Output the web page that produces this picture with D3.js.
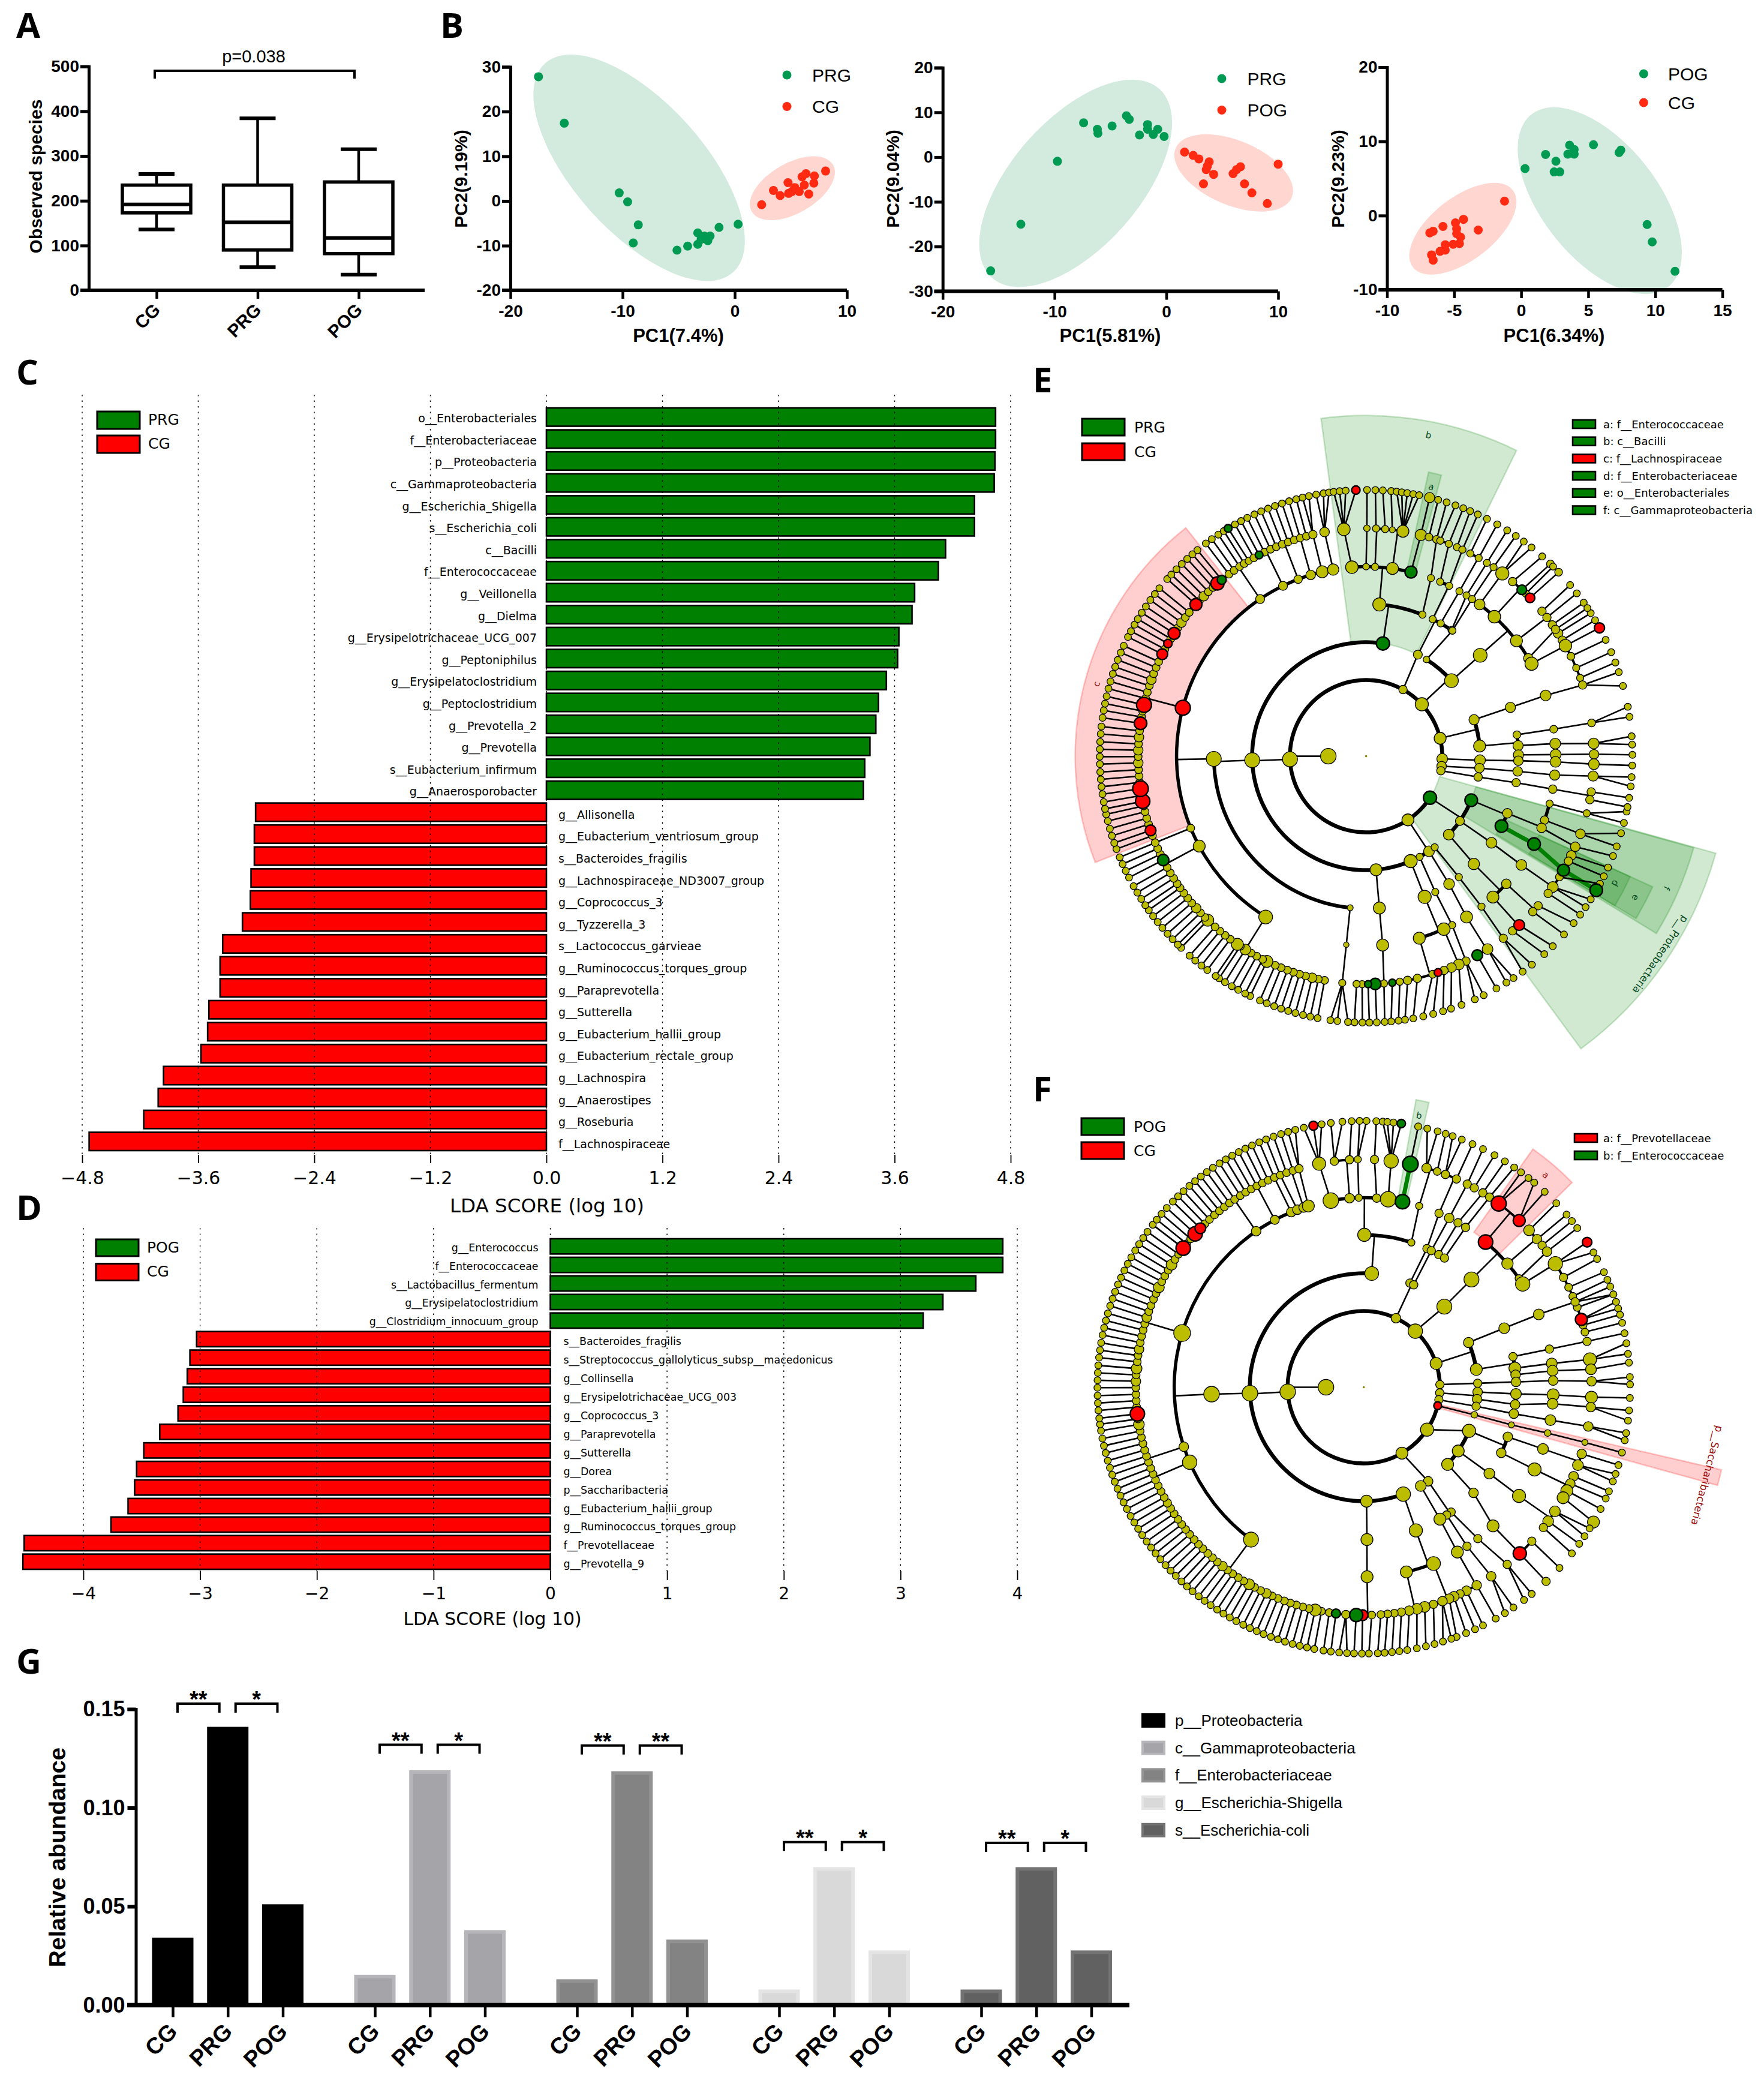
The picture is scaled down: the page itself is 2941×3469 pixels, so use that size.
<!DOCTYPE html>
<html><head><meta charset="utf-8">
<script src="https://cdn.jsdelivr.net/npm/d3@7"></script>
<style>html,body{margin:0;background:#fff}svg{display:block}</style></head><body>
<div id="c"></div>
<script>
// ---------- Panel A
const A_groups=["CG","PRG","POG"];
const A_box=[{lo:136,q1:173,med:192,q3:235,hi:260},{lo:52,q1:90,med:152,q3:235,hi:384},{lo:35,q1:82,med:117,q3:242,hi:315}];
const A_ticks=[0,100,200,300,400,500];
// ---------- Panel B
const B1_prg=[[-17.5,27.8],[-15.2,17.4],[-10.3,1.8],[-9.55,-0.2],[-8.6,-5.35],[-9.05,-9.4],[-5.15,-11],[-4.2,-10.1],[-3.3,-7.15],[-3.3,-9.7],[-3,-8.6],[-2.7,-7.85],[-2.4,-8.9],[-2.2,-7.85],[-1.4,-5.9],[0.3,-5.2]];
const B1_cg=[[2.4,-0.84],[3.45,2.35],[4.05,1.2],[4.75,4.1],[4.8,1.7],[5.1,2.1],[5.75,2.1],[6,5.4],[6.2,3.55],[6.35,6.1],[6.6,1.55],[7.05,4],[7.1,5.6],[8.1,6.7],[5.35,3]];
const B1_ell=[[-17.95,0.9,-17.9,32.76,-14.6],[1.35,8.93,-4.3,9.99,7.04]];
const B2_prg=[[-15.71,-25.44],[-13.01,-15],[-9.74,-0.94],[-7.4,7.65],[-6.17,6.21],[-6.12,5.31],[-4.85,6.96],[-3.57,9.24],[-3.32,8.44],[-2.4,4.94],[-1.68,7.27],[-1.68,6.21],[-1.17,5.05],[-0.77,6.21],[-0.2,4.62]];
const B2_pog=[[1.63,1.12],[2.4,0.38],[2.91,-0.41],[3.83,-1.05],[3.57,-2.8],[4.23,-3.86],[3.32,-5.98],[5.97,-3.7],[6.63,-2.16],[6.28,-2.8],[6.99,-5.98],[7.65,-8],[9.03,-10.38],[10,-1.58],[3.67,-2]];
const B2_ell=[[-16.73,0.51,-29.05,17.3,-3.06],[0.71,11.33,-12.18,5.1,3.57]];
const B3_pog=[[0.29,6.33],[1.82,8.24],[2.46,5.88],[2.88,5.88],[2.59,7.32],[3.48,8.27],[3.61,9.49],[3.95,8.91],[3.95,8.27],[5.39,9.55],[7.3,8.5],[7.43,8.82],[9.39,-1.21],[9.77,-3.55],[11.47,-7.51]];
const B3_cg=[[-1.24,1.95],[-4.3,-0.51],[-4.9,-0.99],[-3.2,-1.95],[-4.81,-1.79],[-4.81,-2.43],[-5.83,-1.47],[-6.56,-2.11],[-6.81,-2.33],[-4.52,-2.91],[-4.6,-3.77],[-5.07,-3.87],[-5.66,-3.93],[-5.66,-4.66],[-6.05,-4.82],[-6.68,-5.3],[-6.56,-6.01]];
const B3_ell=[[-0.26,11.98,-10.58,14.6,2.46],[-8.34,-0.35,-7.96,4.41,-2]];
// ---------- Panel C
const C_names=["o__Enterobacteriales","f__Enterobacteriaceae","p__Proteobacteria","c__Gammaproteobacteria","g__Escherichia_Shigella","s__Escherichia_coli","c__Bacilli","f__Enterococcaceae","g__Veillonella","g__Dielma","g__Erysipelotrichaceae_UCG_007","g__Peptoniphilus","g__Erysipelatoclostridium","g__Peptoclostridium","g__Prevotella_2","g__Prevotella","s__Eubacterium_infirmum","g__Anaerosporobacter","g__Allisonella","g__Eubacterium_ventriosum_group","s__Bacteroides_fragilis","g__Lachnospiraceae_ND3007_group","g__Coprococcus_3","g__Tyzzerella_3","s__Lactococcus_garvieae","g__Ruminococcus_torques_group","g__Paraprevotella","g__Sutterella","g__Eubacterium_hallii_group","g__Eubacterium_rectale_group","g__Lachnospira","g__Anaerostipes","g__Roseburia","f__Lachnospiraceae"];
const C_vals=[4.644,4.644,4.637,4.63,4.426,4.426,4.127,4.052,3.807,3.78,3.644,3.631,3.515,3.433,3.406,3.345,3.291,3.277,-3.007,-3.02,-3.02,-3.054,-3.061,-3.143,-3.347,-3.374,-3.374,-3.49,-3.503,-3.571,-3.959,-4.014,-4.163,-4.728];
const C_ticks=[-4.8,-3.6,-2.4,-1.2,0,1.2,2.4,3.6,4.8];
// ---------- Panel D
const D_names=["g__Enterococcus","f__Enterococcaceae","s__Lactobacillus_fermentum","g__Erysipelatoclostridium","g__Clostridium_innocuum_group","s__Bacteroides_fragilis","s__Streptococcus_gallolyticus_subsp__macedonicus","g__Collinsella","g__Erysipelotrichaceae_UCG_003","g__Coprococcus_3","g__Paraprevotella","g__Sutterella","g__Dorea","p__Saccharibacteria","g__Eubacterium_hallii_group","g__Ruminococcus_torques_group","f__Prevotellaceae","g__Prevotella_9"];
const D_vals=[3.876,3.876,3.645,3.363,3.194,-3.03,-3.087,-3.11,-3.144,-3.189,-3.346,-3.482,-3.544,-3.561,-3.617,-3.763,-4.507,-4.518];
const D_ticks=[-4,-3,-2,-1,0,1,2,3,4];
// ---------- Panel G
const G_taxa=["p__Proteobacteria","c__Gammaproteobacteria","f__Enterobacteriaceae","g__Escherichia-Shigella","s__Escherichia-coli"];
const G_vals=[[.0342,.141,.0511],[.0154,.119,.038],[.0131,.1185,.0332],[.0079,.0699,.0277],[.0079,.0699,.0277]];
const G_fill=["#000","#a5a4a9","#838383","#d9d9d9","#616161"];
const G_edge=["#000","#b6b5ba","#929292","#e4e4e4","#737373"];
const G_stars=[["**","*"],["**","*"],["**","**"],["**","*"],["**","*"]];
const G_level=[.1527,.1319,.1315,.0826,.0822];
const G_ticks=[0,.05,.1,.15];
// ---------- Cladogram nodes: [clockwise angle from top, radius, children, colour]; a bare number is a spoke out to the rim
const E_fam212=[190.5,192.1,[193.7,8],195.4,197,198.6,200.2,201.9,203.5,[205.8,10],207,208.7,210.3,[212,9],213.5,[214.4,10],216.6,218.2,219.9,221.5,[224,10],225,226.6,[228.2,8],229.9,231.5,233.1,234.7,236];
const E_lachno=[249.6,[251,9,null,'r'],252.6,254.2,255.9,257.4,[258.6,12,null,'r'],260.1,[261.8,13,null,'r'],263.4,265,266.6,[268.3,8],269.9,[271.5,8],273.1,[274.8,8],276.4,[278.3,10.5,null,'r'],279.9,281.4,[283,12.5,null,'r'],284.7,286.3,288,[289.6,8],291.2,292.9,294.5,[296.6,9,null,'r'],298,[299.6,7,null,'r'],301,[302.6,10,null,'r'],304.2,[305.9,8],307.5,309.1,[311.7,10,null,'r'],313,[314.6,8],316.2,317.8,[319.3,11,null,'r']];
const E_clostridiales=[
 [212,11.5,E_fam212],[241.7,10,[237.6,239.2,240.8,[242.9,9.5,null,'g'],244.5]],[247.7,6.5,[246.1,247.7]],
 [284.8,12.5,E_lachno,'r'],
 [326,7.5,[[320.7,7.5,null,'g'],323,324.6,326.3,327.7,[329,6,[[328.8,6.5,null,'g']]]]],
 [334,7.5,[[332,6.5,null,'g'],330.5,333.5,335.2,336.8]],[339,7,[338.4,340,341.6]],[343,8,[343.2,344.8]],[346.6,10,[[346.5,7,[346.2,347.6]]]],[350,9.5,[[349.5,8,[349.2,350.8,352]]]]];
const E_bacilli=[
 [365,11,[[355.7,10.5,[[354.4,10.5,[353,354.3,355.6,[357.8,7,null,'r']]]]],[360,5.5,[[360.2,5.5,[360.2]]]],[362.7,6,[[362.5,6,[362]],[364.8,6,[363.6]]]],
   [368,10,[[366.6,5,[365.4]],[369.3,10,[366.6,367.7,368.9,370.2,371.5]]]],[373.7,10,[[373.9,9.5,[[373.8,8.5]]]],'g']]],
 [381.7,6,[[380,6,[[376,6.5,[375.7]],[378,6.5,[377.6]]]]]]];
const E_firmicutes=[
 [157,11,[[157.4,11,[[155.8,10.5,[[156,9,[159]],[158,8,[161.4]],[160,7,[163.2]],[161.6,6.5,[165.4],'r']]],
   [163.7,10,[[163,6.5,[167.6]],[167,7,[169.8]],[169.5,7,[171.6]],[171.5,6,[173]],[173.4,6,[174.6],'g']]]]]]],
 [175,10,[[175,10,[[175,10,[[175.5,6,[176]],[177.7,9.5,[177.7],'g'],[179.5,6,[179.3],'g'],[181,6,[180.8]],[182.4,6,[182.5]]]]]]]],
 [268,12.5,[[269,12.5,E_clostridiales],[186,5,[[186,4.5,[[186,6,[183.9,186.2,187.7]]]]]]]],
 [368.5,11,E_bacilli,'g']];
const E_top=[
 [387,7.5,[[385.9,6,[[383,6,[[379,6,[379.6]],[381.3,6,[381.4]]]],[386,6,[[383.5,6,[383]],[385,6,[384.8]]]]]],[389.3,6,[[389.5,6,[[387.2,6,[387]],[389.6,6,[389.5]]]]]],[394.1,6,[[392,6,[[392,6,[392]]]]]]]]];
const E_top2=[
 [392,5.5,[[394.5,6,[[394,6,[[394,6,[394.2]]]]]]]],
 [408.5,11.5,[[408.5,11.5,[[396.8,9,[[396.7,11,[396.3,398.4]]]],[402.6,10.5,[[400,7,[401.4]],[403.1,8,[[403.8,6.5]],'g'],[404.5,6,[404.6]],[406,8,[[406.3,6.5]],'r']]],
   [412.5,10,[[410.5,7,[410]],[412.5,7,[412.3]],[414.8,7,[414.8]],[417.4,8,[417.5]],[419.4,7,[419.3]]]],[418.9,8,[[416.2,7]]],[420.8,11,[[421,10.5,[[421.2,8.5,null,'r']]],[424,6.5,[424.1]],[427.2,6,[427]],[429.9,6,[429.4]]]]]]]]];
const E_right=[
 [431.3,8.5,[[431.3,8.5,[[431.3,9,[[431.8,7,[431.6,434.7]]]]]]]],
 [444.9,10,[[441.9,6.5,[[441.8,6.5,[[441.6,6.5,[439.3,441.5]]]]]],[446,8.5,[[446.2,9,[[446.8,9,[445.7,447.5]]]]]]]]];
const E_proteo=[
 [112.7,10.5,[
   [117.3,10.5,[[117.6,10.5,[[120,10,[[120.2,10.5,null,'g']],'g']],'g']],'g'],
   [112,8,[[104.5,6,[[104.5,6,[102,104.5]]]],[109.7,7,[[109.9,8,[106.8,109.8]]]],[112.2,8,[[113.4,8,[112]],[115.8,8,[114.7]],[117.4,7,[116.8]]]]]]],'g'],
 [124.6,7.5,[[124.6,9,[[125,9,[[122,6.5,[118.6]],[125,9,[122.5,124.5]],[127,7,[126.5]]]]]]]],
 [133.5,9,[[135,9.5,[[138,10,[[137.8,9,[135.5],'r'],[140,7,[138]]]],[132.3,8,[[131,7,[128.8]],[133,7,[132]]]]]]]]];
const E_other=[
 [146.5,9,[[147,9,[[148,10,[[147.8,9,[146.4,148.2]],[150.8,9,[150.7],'g']]]]]]],
 [143,6,[[142.5,6,[[142.5,6,[[143,7,[141.5,144]]]]]]]],
 [152,6,[[153,6,[[153,6,[[154,7,[153.8,155.9]]]]]]]]];
const E_tree=[270,13,[
 [123,11,E_proteo,'g'],[146.7,10,E_other],[267.7,12.5,E_firmicutes],[389,7,E_top],[407,11,E_top2],[436.4,10,E_right],
 [452,9,[[452,9,[[449.5,8.5,[[449.5,9,[[449.5,8,[449.7]]]]]],[451.7,8,[[451.7,9,[[452,9,[452]]]]]]]]]],
 [457.5,8,[[456,8,[[455.7,8,[[455.7,8.5,[[455,8.5,[454.5,456.5]]]]]]]]]],
 [461,7,[[460.5,7,[[460,7,[[460,7,[[459,7,[459]],[461,7,[461]]]]]]]]]]]];
// ---------- F
const F_fam216=[[184.5,7,[183.6,185.3]],[187,7.5,[187.1],'g'],188.7,190.7,[192.3,10],193.9,195.5,197.2,198.8,200.4,202.1,203.7,[205.3,8],206.9,208.6,[210.2,9],211.8,213.4,215.1,216.7,[218.3,8],220,221.6,223.2,224.9,226.5,228.1,229.8,231.4,233,234.6,236.3,237.9];
const F_fam286=[255.7,257.3,258.9,[260.6,9],262,[263.3,12,null,'r'],265,266.6,268.2,269.9,[271.5,8],273.1,[274.7,9],276.4,278,[279.6,8],281.3,282.9,284.5,286.1,[287.8,8],289.4,291,292.7,294.3,[296,9],297.6,299.2,300.9,[302.5,9],304.1,305.7,[307.6,12,null,'r'],309,310.6,[312.3,12,null,'r'],[314.2,9,null,'r'],315.8,317.4,319.1,320.7];
const F_clostridiales=[[216.5,12.5,F_fam216],[246.7,12,[[239.5,7],241.1,242.8,244.4,246,247.6,249.2]],[251.7,8,[250.8,252.4,254]],[286.6,14,F_fam286],
 [325.4,8,[322.3,323.9,325.5,327.2,328.8]],[332,7.5,[330.4,332,333.6]],[337.5,8,[335.2,336.9]],[339.5,8,[338.5]],[341.5,8,[340.2,341.9]],[343,10,[[343.5,7,[343.5,345.1]]]]];
const F_bacilli=[
 [360.2,11,[[350,13,[[348.7,11,[347,[349.1,7.5,null,'r'],350.9]]]],[355.7,8,[[352.6,7,[352.9,355.4]],[356.4,7,[357.4]]]],[358.5,6,[[358.5,6,[359.1,360.6]]]],[363.9,7,[[362.7,7,[362.7]]]],
   [367.4,13,[[366.9,12,[364.1,365.1,366.4,[368.1,7,null,'g']]]]],[371.8,12,[[371.8,13,[[371.8,6]],'g']],'g']]],
 [378.2,6,[[377,6,[[376,8,[373.8,376.1]],[378.8,6.5,[377.9]]]]]]];
const F_firmicutes=[
 [159.7,12,[[160,11,[[158.4,11.5,[[156.7,8.5,[157.4]],[158,8,[159.6]],[159.8,8,[160.8,162.7]],[162.2,7,[164.6]]]],
   [167,10,[[164.5,9,[166.5]],[166.5,9,[168.5]],[168.5,8,[170.6]],[170.5,7,[172.3]],[172.3,6.5,[173.9]],[174,6.5,[175.5]],[175.7,6.5,[177]]]]]]]],
 [178.6,10,[[178.8,10,[[179,10,[[178,6.5,[178.9]],[180.3,9,[180.4],'r'],[181.9,11,[182.1],'g']]]]]]],
 [267,13,[[267.4,13,F_clostridiales]]],
 [364,11.5,F_bacilli]];
const F_top=[
 [383.9,7,[[384.5,7,[[383.4,7,[[381,7,[379.5,381.6]],[384,7,[384.1]]]]]]]],
 [386,7,[[386.3,7,[[386.8,8,[[387,7,[386.6]],[389,7,[389.4]]]]]],[389.5,7,[[389.8,7,[[391.5,7,[392]]]]]],[392,7,[[392.5,7,[[393.5,7,[394.4]]]]]]]]];
const F_prevo=[
 [405,12.5,[[405,12.5,[
   [400,12,[[396.3,12.5,[396.2,398.2],'r'],[403,10,[399.8,402.8],'r']],'r'],
   [409.3,9.5,[[406.5,9,[406.3]],[409.5,8,[409.6]],[411.5,7,[411.4]]]],
   [415,6.5,[[413.5,8,[413.3]]]],
   [417,12,[[417.2,12,[[417,8,null,'r'],419.6]],[421.2,7,[421.2]],[424,6.5,[424.4]],[426.5,6.5,[426.2]],[429.5,6.5,[429.6]],[432.7,10,[431.3,432.8],'r'],[434.2,6.5,[434.2]],[436,6.5,[436]]]]]]]]];
const F_right=[
 [426.9,8.5,[[427.2,9,[[427.4,9,[[428,7,[427.8,429.6]]]]]]]],
 [441,10,[[438.4,7,[[438.4,7,[[438.4,7,[438.3]]]]]],[442.8,10,[[442.8,9,[[443,11,[440.5,442.8]]]]]],[445.3,8,[[445,9,[[445.5,9,[444.7]]]]]]]]];
const F_mid=[
 [472.5,11,[[469,8,[[469,9,[[467,8,[467]],[470,9,[469,470.7]]]]]],[475.5,8,[[475.7,11,[[473,8,[473]],[475,8,[474.7]],[477,10,[477.2]],[479,10,[[480.4,10]]]]]]]]],
 [484,10,[[484.5,9,[[485,11,[[483,9,[482,484]],[486,9,[486]],[488,7,[488.6]]]]]]]],
 [492.6,10,[[493.9,8,[[497,10,[[492.5,7,[492.7]],[496.8,11,[[496.8,7]],'r']]]]]]],[483.8,0]];
const F_low=[
 [505.6,8,[[505,7,[[503,7,[[501,7,[500.9,503]]]]]],[507,7,[[507,7,[[506,8,[505.8,508]]]]]]]],
 [510,9,[[510,10,[[510.4,10,[[510.3,8,[510.3]],[513.2,8,[513.4]],[515,7,[515.3]]]]]]]]];
const F_tree=[270,13,[
 [123.8,11,F_mid],[149.9,10,F_low],[266.6,13,F_firmicutes],[385,8,F_top],[402.6,12,F_prevo],[431.8,10,F_right],
 [448,7,[[448,7,[[448,8,[[448,8,[[448.5,8,[447.8,449.4]]]]]]]]]],
 [454.3,7,[[452.4,8,[[452.5,9,[[452.3,10,[[452.5,10,[452.3]]]]]]]],[456,8,[[456.5,8,[[455,9,[[455,8,[455,457.2]]]]]]]]]],
 [459.5,7,[[459.6,7,[[460,8,[[460,9,[[459.9,8,[459.9,461.5]]]]]]]]]],
 [464,6.5,[[464,5.5,[[464.3,5,[[464,5.5,[[464,5,[464.2]]]]]]]]],'r'],[483.8,0]]];
const E_wedges=[
 {t:"p__Proteobacteria",a0:105.5,a1:143.7,r0:127,r1:605,c:'g',lr:592,la:124,fs:17},
 {t:"f",a0:105.6,a1:121.4,r0:190,r1:567,c:'g',lr:547,la:113.7,fs:15},
 {t:"e",a0:114.5,a1:121,r0:253,r1:525,c:'g',lr:507,la:117.7,fs:15},
 {t:"d",a0:114.5,a1:121,r0:317,r1:484,c:'g',lr:466,la:117,fs:15},
 {t:"b",a0:352.4,a1:386.2,r0:190,r1:568,c:'g',lr:545,la:371,fs:15},
 {t:"a",a0:372.4,a1:375,r0:316,r1:485,c:'g',lr:462,la:373.6,fs:15},
 {t:"c",a0:248.6,a1:321.7,r0:316,r1:485,c:'r',lr:465,la:285,fs:15}];
const F_wedges=[
 {t:"p__Saccharibacteria",a0:103,a1:105.5,r0:127,r1:612,c:'r',lr:591,la:104.4,fs:17},
 {t:"a",a0:35.4,a1:45.5,r0:317,r1:487,c:'r',lr:466,la:40.6,fs:15},
 {t:"b",a0:10.3,a1:12.9,r0:317,r1:487,c:'g',lr:462,la:11.5,fs:15}];
const E_key=[["a: f__Enterococcaceae",'g'],["b: c__Bacilli",'g'],["c: f__Lachnospiraceae",'r'],["d: f__Enterobacteriaceae",'g'],["e: o__Enterobacteriales",'g'],["f: c__Gammaproteobacteria",'g']];
const F_key=[["a: f__Prevotellaceae",'r'],["b: f__Enterococcaceae",'g']];

const ARIAL="'Liberation Sans',Arial,sans-serif", DJV="'DejaVu Sans',sans-serif";
const svg=d3.select("#c").append("svg").attr("width",2941).attr("height",3469).attr("viewBox","0 0 2941 3469");
svg.append("rect").attr("width",2941).attr("height",3469).attr("fill","#fff");
const letter=(t,x,y)=>svg.append("text").text(t).attr("x",x).attr("y",y).attr("font-family","'Open Sans',sans-serif").attr("font-weight",700).attr("font-size",58);
[["A",27,63],["B",734,63],["C",27,641],["D",27,2034],["E",1722,654],["F",1722,1836],["G",27,2790]].forEach(d=>letter(...d));
function txt(g,t,x,y,o={}){const e=g.append("text").text(t).attr("x",x).attr("y",y).attr("font-family",o.font||ARIAL).attr("font-size",o.fs||28).attr("font-weight",o.w||400).attr("text-anchor",o.a||"start").attr("dominant-baseline",o.base||"central").attr("fill",o.fill||"#000");if(o.rot!=null)e.attr("transform",`rotate(${o.rot} ${x} ${y})`);return e;}

function prismY(g,y,x0,ticks,fmt,o={}){
  const a=d3.axisLeft(y).tickValues(ticks).tickSize(o.ts||14).tickPadding(o.pad||2).tickFormat(fmt||(d=>String(d)));
  const s=g.append("g").attr("transform",`translate(${x0},0)`).call(a);
  s.select(".domain").attr("stroke-width",o.dw||5).attr("stroke","#000");
  s.selectAll(".tick line").attr("stroke-width",o.tw||5).attr("stroke","#000");
  s.selectAll("text").attr("font-family",ARIAL).attr("font-weight",700).attr("font-size",o.fs||28).attr("fill","#000");
}
function prismX(g,x,y0,ticks,xEnd,o={}){
  const a=d3.axisBottom(x).tickValues(ticks).tickSize(o.ts||14).tickPadding(o.pad||10).tickFormat(d=>String(d));
  const s=g.append("g").attr("transform",`translate(0,${y0})`).call(a);
  s.select(".domain").attr("d",`M${o.x0},0H${xEnd}`).attr("stroke-width",o.dw==null?6:o.dw).attr("stroke","#000");
  s.selectAll(".tick line").attr("stroke-width",o.tw||4.5).attr("stroke","#000");
  s.selectAll("text").attr("font-family",ARIAL).attr("font-weight",700).attr("font-size",o.fs||28).attr("fill","#000");
  if(o.rot){s.selectAll("text").attr("text-anchor","end").attr("dy","0.35em").attr("y",o.ly).attr("x",o.lx).attr("transform",function(){return `rotate(${o.rot} ${o.lx} ${o.ly})`;});}
}
// Panel A
(function(){
 const g=svg.append("g");
 const y=d3.scaleLinear([0,500],[484,110.7]);
 const x=d3.scalePoint(A_groups,[261,598]);
 prismY(g,y,148,A_ticks);
 prismX(g,x,484,A_groups,708,{x0:134,rot:-45,lx:0,ly:27,fs:30});
 const w=114, cap=60;
 A_box.forEach((b,i)=>{const cx=x(A_groups[i]);
  g.append("line").attr("x1",cx).attr("x2",cx).attr("y1",y(b.lo)).attr("y2",y(b.hi)).attr("stroke","#000").attr("stroke-width",4.5);
  [b.lo,b.hi].forEach(v=>g.append("line").attr("x1",cx-cap/2).attr("x2",cx+cap/2).attr("y1",y(v)).attr("y2",y(v)).attr("stroke","#000").attr("stroke-width",6));
  g.append("rect").attr("x",cx-w/2).attr("width",w).attr("y",y(b.q3)).attr("height",y(b.q1)-y(b.q3)).attr("fill","#fff").attr("stroke","#000").attr("stroke-width",5.5);
  g.append("line").attr("x1",cx-w/2).attr("x2",cx+w/2).attr("y1",y(b.med)).attr("y2",y(b.med)).attr("stroke","#000").attr("stroke-width",6);
 });
 g.append("path").attr("d",`M${x("CG")-3},131V118H${x("POG")-7}V131`).attr("fill","none").attr("stroke","#000").attr("stroke-width",4);
 txt(g,"p=0.038",423,94,{fs:29,a:"middle"});
 txt(g,"Observed species",59,294,{fs:30,w:700,a:"middle",rot:-90});
})();
// Panel B
function ellipseFrom(g,x,y,e,fill){
 const x0=x(e[0]),x1=x(e[1]),y0=y(e[3]),y1=y(e[2]),xt=x(e[4]);
 const cx=(x0+x1)/2,cy=(y0+y1)/2,hx=(x1-x0)/2,hy=(y1-y0)/2;
 const S=(cx-xt)*hy,D=hx*hx-hy*hy,sum=hx*hx+hy*hy,diff=Math.hypot(2*S,D);
 const a=Math.sqrt((sum+diff)/2),b=Math.sqrt(Math.max(1,(sum-diff)/2)),th=Math.atan2(2*S,D)/2*180/Math.PI;
 g.append("ellipse").attr("cx",cx).attr("cy",cy).attr("rx",a).attr("ry",b).attr("transform",`rotate(${th} ${cx} ${cy})`).attr("fill",fill);
}
function pca(o){
 const g=svg.append("g");
 const x=d3.scaleLinear(o.xd,o.xr), y=d3.scaleLinear(o.yd,o.yr);
 const GR="#009a52",RD="#ff2a12";
 ellipseFrom(g,x,y,o.ell[0],"#d3eadf");
 ellipseFrom(g,x,y,o.ell[1],"#ffd6d0");
 g.selectAll(null).data(o.a).join("circle").attr("cx",d=>x(d[0])).attr("cy",d=>y(d[1])).attr("r",7.5).attr("fill",GR);
 g.selectAll(null).data(o.b).join("circle").attr("cx",d=>x(d[0])).attr("cy",d=>y(d[1])).attr("r",7.5).attr("fill",RD);
 prismY(g,y,o.xr[0],o.yt);
 prismX(g,x,o.yr[0],o.xt,o.xr[1],{x0:o.xr[0]-14});
 o.leg.forEach((l,i)=>{g.append("circle").attr("cx",l[1]).attr("cy",l[2]).attr("r",7.5).attr("fill",i?RD:GR);txt(g,l[0],l[3],l[2],{fs:30});});
 txt(g,o.xl,o.xlx,559,{fs:31,w:700,a:"middle"});
 txt(g,o.yl,o.ylx,298,{fs:30,w:700,a:"middle",rot:-90});
}
pca({xd:[-20,10],xr:[851,1412],yd:[-20,30],yr:[484,111.5],ell:B1_ell,a:B1_prg,b:B1_cg,yt:[-20,-10,0,10,20,30],xt:[-20,-10,0,10],leg:[["PRG",1312,125,1354],["CG",1312,177.5,1354]],xl:"PC1(7.4%)",xlx:1131,yl:"PC2(9.19%)",ylx:768});
pca({xd:[-20,10],xr:[1571.7,2131],yd:[-30,20],yr:[485.6,112.7],ell:B2_ell,a:B2_prg,b:B2_pog,yt:[-30,-20,-10,0,10,20],xt:[-20,-10,0,10],leg:[["PRG",2037,131,2079.5],["POG",2037,183.5,2079.5]],xl:"PC1(5.81%)",xlx:1851,yl:"PC2(9.04%)",ylx:1488});
pca({xd:[-10,15],xr:[2312.5,2871.6],yd:[-10,20],yr:[483,112],ell:B3_ell,a:B3_pog,b:B3_cg,yt:[-10,0,10,20],xt:[-10,-5,0,5,10,15],leg:[["POG",2740.4,123,2781],["CG",2740.4,171,2781]],xl:"PC1(6.34%)",xlx:2591,yl:"PC2(9.23%)",ylx:2230});
// LDA bars
function lda(o){
 const g=svg.append("g");
 const x=d3.scaleLinear(o.xd,o.xr);
 const y=d3.scaleBand(o.names,o.yr).paddingInner(o.pad).paddingOuter(0);
 o.names.forEach((n,i)=>{const v=o.vals[i];
  g.append("rect").attr("x",x(Math.min(v,0))).attr("width",Math.abs(x(v)-x(0))).attr("y",y(n)).attr("height",y.bandwidth()).attr("fill",v>0?"#008000":"#ff0000").attr("stroke","#000").attr("stroke-width",2.6);
  if(v>0)txt(g,n,x(0)-o.lo,y(n)+y.bandwidth()/2+2,{font:DJV,fs:o.fs,a:"end"});
  else txt(g,n,x(0)+o.ro,y(n)+y.bandwidth()/2+4,{font:DJV,fs:o.fs});
 });
 o.ticks.forEach(t=>g.append("line").attr("x1",x(t)).attr("x2",x(t)).attr("y1",o.gt).attr("y2",o.gb).attr("stroke","#000").attr("stroke-width",1.4).attr("stroke-dasharray","2.5,7"));
 const ax=d3.axisBottom(x).tickValues(o.ticks).tickSize(o.ts).tickPadding(o.tp).tickFormat(o.fmt);
 const s=g.append("g").attr("transform",`translate(0,${o.gb})`).call(ax);
 s.select(".domain").remove();
 s.selectAll(".tick line").attr("stroke","#000").attr("stroke-width",1.8);
 s.selectAll("text").attr("font-family",DJV).attr("font-size",o.tfs).attr("fill","#000");
 txt(g,"LDA SCORE (log 10)",o.lx,o.ly,{font:DJV,fs:o.lfs,a:"middle"});
 o.leg.forEach((l,i)=>{g.append("rect").attr("x",o.lgx).attr("y",o.lgy[i]).attr("width",o.lgw).attr("height",o.lgh).attr("fill",i?"#ff0000":"#008000").attr("stroke","#000").attr("stroke-width",3);
   txt(g,l,o.lgx+o.lgw+14,o.lgy[i]+o.lgh/2-1,{font:DJV,fs:25});});
}
lda({names:C_names,vals:C_vals,xd:[-4.8,4.8],xr:[137,1685],yr:[680,1918],pad:.166,ticks:C_ticks,gt:658,gb:1925,ts:14,tp:14,tfs:30,fmt:d3.format(".1f"),fs:19,lo:16,ro:20,lx:912,ly:2010,lfs:32.5,leg:["PRG","CG"],lgx:162,lgy:[686,726],lgw:71,lgh:29});
lda({names:D_names,vals:D_vals,xd:[-4,4],xr:[139,1696],yr:[2065,2616],pad:.18,ticks:D_ticks,gt:2047,gb:2619,ts:15,tp:12,tfs:28,fmt:d3.format("d"),fs:17.4,lo:20,ro:22,lx:821,ly:2698,lfs:29.8,leg:["POG","CG"],lgx:160,lgy:[2066,2106.5],lgw:71,lgh:28});
// Panel G
(function(){
 const g=svg.append("g");
 const y=d3.scaleLinear([0,.15],[3342.5,2849]);
 const xG=d3.scalePoint(G_taxa,[288,1636]);
 const cats=["CG","PRG","POG"];
 const bw=69;
 G_taxa.forEach((t,i)=>{
  const x=d3.scalePoint(cats,[xG(t),xG(t)+183.5]);
  cats.forEach((c,j)=>{const v=G_vals[i][j];
    g.append("rect").attr("x",x(c)-bw/2+3).attr("width",bw-6).attr("y",y(v)+3).attr("height",y(0)-y(v)-3).attr("fill",G_fill[i]).attr("stroke",G_edge[i]).attr("stroke-width",6);});
  prismX(g,x,3342.5,cats,x("POG"),{x0:x("CG"),rot:-45,lx:0,ly:37,ts:20,fs:38,tw:4.5,dw:0});
  [[x("CG")+8,x("PRG")-14],[x("PRG")+13,x("POG")-9]].forEach((b,k)=>{const ly=y(G_level[i]);
    g.append("path").attr("d",`M${b[0]},${ly+15}V${ly}H${b[1]}V${ly+15}`).attr("fill","none").attr("stroke","#000").attr("stroke-width",4);
    txt(g,G_stars[i][k],(b[0]+b[1])/2,ly+6,{fs:38,w:700,a:"middle",base:"auto"});});
 });
 prismY(g,y,226.5,G_ticks,d3.format(".2f"),{fs:36,ts:14,tw:6,pad:4});
 g.append("line").attr("x1",212).attr("x2",1883).attr("y1",3342.5).attr("y2",3342.5).attr("stroke","#000").attr("stroke-width",7.5);
 txt(g,"Relative abundance",95,3096,{fs:39,w:700,a:"middle",rot:-90});
 G_taxa.forEach((t,i)=>{const yy=2856+i*45.7;
   g.append("rect").attr("x",1903+2).attr("y",yy+2).attr("width",36).attr("height",20).attr("fill",G_fill[i]).attr("stroke",G_edge[i]).attr("stroke-width",4);
   txt(g,t,1959,yy+12,{fs:26});});
})();
// Cladograms
const LEVEL_R=[0,63,127,190,254,316,380,444];
const ARC_W=[0,0,6.5,6.5,6,5.5,4,0];
const DEF_R=[0,13,10,6,6.5,6,6.5,5.8];
const COL={g:"#008000",r:"#ff0000"};
function expand(sp,level){
 if(typeof sp==="number")sp=[sp,DEF_R[level],null,null];
 const a=sp[0],r=sp[1]==null?DEF_R[level]:sp[1];
 let kids=sp[2];
 if((kids==null)&&level<7&&r>0)kids=[a];
 return {a,r,c:sp[3]||null,level,kids:(kids||[]).map(k=>expand(k,level+1))};
}
function polar(r,a){const t=a*Math.PI/180;return [r*Math.sin(t),-r*Math.cos(t)];}
function clado(o){
 const g=svg.append("g").attr("transform",`translate(${o.cx},${o.cy})`);
 const root=expand(o.tree,1);
 const arc=d3.arc();
 const RAD=Math.PI/180;
 o.wedges.forEach(w=>{
   g.append("path").attr("d",arc({innerRadius:w.r0,outerRadius:w.r1,startAngle:w.a0*RAD,endAngle:w.a1*RAD}))
    .attr("fill",w.c==='g'?"rgba(0,128,0,.18)":"rgba(255,0,0,.19)").attr("stroke",w.c==='g'?"rgba(0,128,0,.2)":"rgba(255,0,0,.22)").attr("stroke-width",2.5);
 });
 const links=g.append("g"),nodes=[];
 (function walk(n){
   nodes.push(n);
   const real=n.kids.filter(k=>k.r>0);
   const rc=LEVEL_R[n.level+1];
   if(n.kids.length>1&&n.level+1<=6){
     const as=n.kids.map(k=>k.a);
     const a0=d3.min(as),a1=d3.max(as);
     links.append("path").attr("d",arc({innerRadius:rc-ARC_W[n.level+1]/2,outerRadius:rc+ARC_W[n.level+1]/2,startAngle:a0*RAD,endAngle:a1*RAD})).attr("fill","#000");
     const p=polar(LEVEL_R[n.level],n.a),q=polar(rc,Math.min(a1,Math.max(a0,n.a)));
     links.append("line").attr("x1",p[0]).attr("y1",p[1]).attr("x2",q[0]).attr("y2",q[1]).attr("stroke","#000").attr("stroke-width",2.6);
   } else real.forEach(k=>{
     const p=polar(LEVEL_R[n.level],n.a),q=polar(rc,k.a),hot=k.c&&k.c===n.c;
     links.append("line").attr("x1",p[0]).attr("y1",p[1]).attr("x2",q[0]).attr("y2",q[1]).attr("stroke",hot?COL[k.c]:"#000").attr("stroke-width",hot?7:2.6);
   });
   real.forEach(walk);
 })(root);
 nodes.sort((a,b)=>(a.c?1:0)-(b.c?1:0));
 g.append("g").selectAll("circle").data(nodes).join("circle")
  .attr("cx",d=>polar(LEVEL_R[d.level],d.a)[0]).attr("cy",d=>polar(LEVEL_R[d.level],d.a)[1]).attr("r",d=>d.r)
  .attr("fill",d=>d.c?COL[d.c]:"#bdbd00").attr("stroke","#000").attr("stroke-width",d=>d.c?2.4:1.3);
 g.append("circle").attr("r",1.8).attr("fill","#8a8a00");
 o.wedges.forEach(w=>{const [x,y]=polar(w.lr,w.la);
   txt(g,w.t,x,y,{font:DJV,fs:w.fs,a:"middle",fill:w.c==='g'?"#064a1e":"#9b1010",rot:w.la});});
 o.leg.forEach((l,i)=>{svg.append("rect").attr("x",o.lgx).attr("y",o.lgy[i]).attr("width",71).attr("height",o.lgh).attr("fill",i?"#ff0000":"#008000").attr("stroke","#000").attr("stroke-width",3);
   txt(svg,l,o.lgx+87,o.lgy[i]+o.lgh/2,{font:DJV,fs:25});});
 o.key.forEach((k,i)=>{const yy=o.ky[0]+i*o.ky[1];
   svg.append("rect").attr("x",o.kx).attr("y",yy-7).attr("width",38).attr("height",14).attr("fill",COL[k[1]]).attr("stroke","#000").attr("stroke-width",2.6);
   txt(svg,k[0],2673,yy,{font:DJV,fs:18});});
}
clado({cx:2277.6,cy:1260.6,tree:E_tree,wedges:E_wedges,leg:["PRG","CG"],lgx:1804,lgy:[698,739],lgh:28,key:E_key,kx:2622,ky:[707,28.7]});
clado({cx:2273.7,cy:2312.5,tree:F_tree,wedges:F_wedges,leg:["POG","CG"],lgx:1803,lgy:[1864,1904],lgh:28,key:F_key,kx:2625,ky:[1897,29]});
</script></body></html>
